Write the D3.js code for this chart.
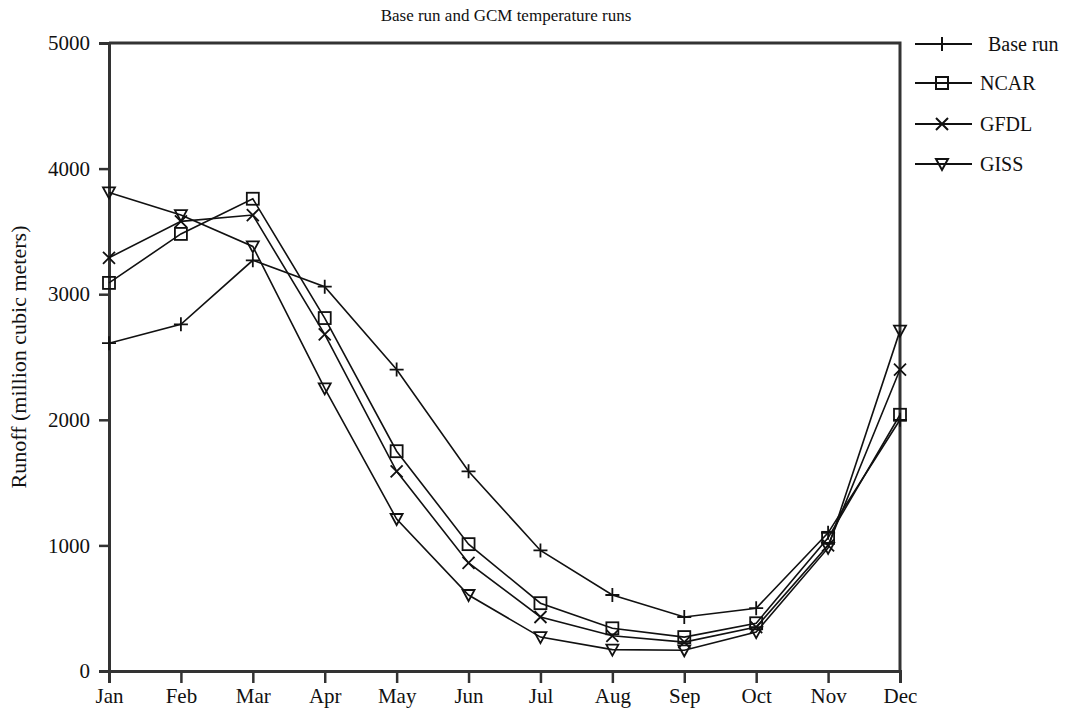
<!DOCTYPE html>
<html>
<head>
<meta charset="utf-8">
<script src="https://cdn.jsdelivr.net/npm/d3@7"></script>
<style>
  body { margin: 0; background: #fff; }
  svg text { font-family: "Liberation Serif", "DejaVu Serif", serif; fill: #111; }
</style>
</head>
<body>
<svg id="chart" width="1065" height="708"></svg>
<script>
// data (million cubic meters)
const months = ['Jan', 'Feb', 'Mar', 'Apr', 'May', 'Jun', 'Jul', 'Aug', 'Sep', 'Oct', 'Nov', 'Dec'];
const baseRun = [2610, 2760, 3270, 3060, 2400, 1590, 960, 605, 430, 500, 1100, 2000];
const ncar = [3090, 3480, 3760, 2810, 1750, 1010, 540, 340, 270, 380, 1060, 2040];
const gfdl = [3290, 3580, 3630, 2680, 1590, 860, 430, 280, 230, 350, 1000, 2400];
const giss = [3810, 3630, 3380, 2250, 1210, 605, 270, 170, 165, 310, 980, 2710];
const yTicks = [0, 1000, 2000, 3000, 4000, 5000];

const seriesNames = ['Base run', 'NCAR', 'GFDL', 'GISS'];
const seriesValues = [baseRun, ncar, gfdl, giss];
const markerKind = ['plus', 'square', 'cross', 'tri'];

const svg = d3.select('#chart');
const margin = {top: 43, right: 165, bottom: 37, left: 109};
const width = 1065 - margin.left - margin.right;
const height = 708 - margin.top - margin.bottom;

const x = d3.scalePoint().domain(months).range([0, width]);
const y = d3.scaleLinear().domain([0, 5000]).range([height, 0]);

const g = svg.append('g')
    .attr('transform', `translate(${margin.left},${margin.top})`);

// title
svg.append('text')
    .attr('x', 506)
    .attr('y', 21)
    .attr('text-anchor', 'middle')
    .style('font-size', '17px')
    .text('Base run and GCM temperature runs');

// frame: top and right edges
g.append('path')
    .attr('d', `M0,0H${width}V${height}`)
    .attr('fill', 'none')
    .attr('stroke', '#333')
    .attr('stroke-width', 3);

// axes
const xAxis = g.append('g')
    .attr('transform', `translate(0,${height})`)
    .call(d3.axisBottom(x).tickSize(12).tickPadding(5));
const yAxis = g.append('g')
    .call(d3.axisLeft(y).tickValues(yTicks).tickFormat(d3.format('d')).tickSize(10).tickPadding(9));

[xAxis, yAxis].forEach(function (a) {
    a.select('.domain').attr('stroke', '#333').attr('stroke-width', 3);
    a.selectAll('.tick line').attr('stroke', '#333').attr('stroke-width', 2.5);
    a.selectAll('.tick text')
        .style('font-family', '"Liberation Serif", serif')
        .style('font-size', '21px')
        .attr('fill', '#111');
});
// bottom ticks only go below the axis
xAxis.selectAll('.tick line').attr('y1', 0);
yAxis.selectAll('.tick text').attr('dy', '0.32em');

// y label
svg.append('text')
    .attr('transform', 'translate(26,357) rotate(-90)')
    .attr('text-anchor', 'middle')
    .style('font-size', '22px')
    .text('Runoff (million cubic meters)');

// markers
function drawMarker(sel, kind) {
    if (kind === 'plus') {
        sel.append('path').attr('d', 'M-7,0H7M0,-7V7');
    } else if (kind === 'square') {
        sel.append('rect').attr('x', -6).attr('y', -6).attr('width', 12).attr('height', 12);
    } else if (kind === 'cross') {
        sel.append('path').attr('d', 'M-6,-6L6,6M-6,6L6,-6');
    } else {
        sel.append('path').attr('d', 'M-6,-5H6L0,6Z');
    }
}

const line = d3.line()
    .x((d, i) => x(months[i]))
    .y(d => y(d));

seriesValues.forEach(function (vals, s) {
    g.append('path')
        .datum(vals)
        .attr('d', line)
        .attr('fill', 'none')
        .attr('stroke', '#111')
        .attr('stroke-width', 1.6);

    g.selectAll('.m' + s)
        .data(vals)
        .enter()
        .append('g')
        .attr('class', 'm' + s)
        .attr('transform', (d, i) => `translate(${x(months[i])},${y(d)})`)
        .attr('fill', 'none')
        .attr('stroke', '#111')
        .attr('stroke-width', 1.8)
        .each(function () { drawMarker(d3.select(this), markerKind[s]); });
});

// legend
const legendRows = [44, 83, 124, 164];
const legendTextX = [988, 980, 980, 980];
const legend = svg.append('g');
seriesNames.forEach(function (name, s) {
    const row = legend.append('g').attr('transform', `translate(0,${legendRows[s]})`);
    row.append('line')
        .attr('x1', 915).attr('x2', 972)
        .attr('stroke', '#111').attr('stroke-width', 2);
    const mk = row.append('g')
        .attr('transform', 'translate(942,0)')
        .attr('fill', 'none')
        .attr('stroke', '#111')
        .attr('stroke-width', 2);
    drawMarker(mk, markerKind[s]);
    row.append('text')
        .attr('x', legendTextX[s])
        .attr('dy', '0.35em')
        .style('font-size', '20px')
        .text(name);
});
</script>
</body>
</html>
